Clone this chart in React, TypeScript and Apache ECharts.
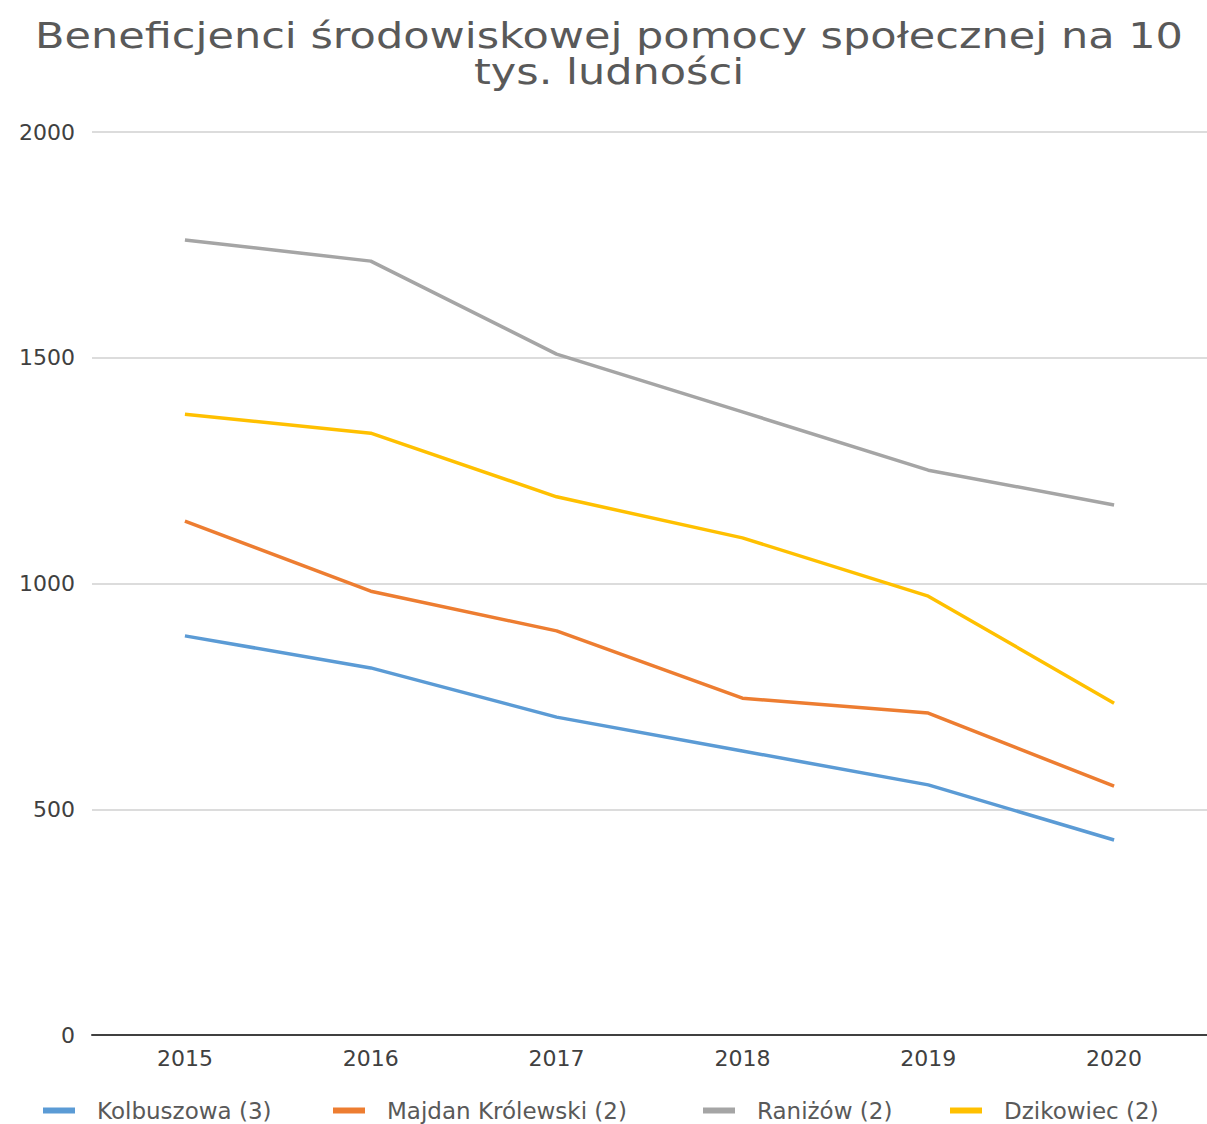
import React, { useEffect, useRef } from "react";
import * as echarts from "echarts";

const categories = ["2015", "2016", "2017", "2018", "2019", "2020"];
const kolbuszowa = [884, 813, 704, 629, 554, 432];
const majdan = [1138, 983, 895, 746, 713, 551];
const ranizow = [1761, 1714, 1508, 1380, 1251, 1174];
const dzikowiec = [1375, 1333, 1192, 1101, 972, 735];
const seriesNames = ["Kolbuszowa (3)", "Majdan Królewski (2)", "Raniżów (2)", "Dzikowiec (2)"];
const colors = ["#5b9bd5", "#ed7d31", "#a5a5a5", "#ffc000"];
const titleLines = ["Beneficjenci środowiskowej pomocy społecznej na 10", "tys. ludności"];
const legendLefts = [43, 333, 703, 950];

const FONT = "'DejaVu Sans', sans-serif";

export default function App() {
  const ref = useRef<HTMLDivElement>(null);
  useEffect(() => {
    if (!ref.current) return;
    const chart = echarts.init(ref.current, undefined, { renderer: "svg" });
    const data = [kolbuszowa, majdan, ranizow, dzikowiec];
    chart.setOption({
      animation: false,
      backgroundColor: "#ffffff",
      graphic: titleLines.map((t, i) => ({
        type: "text",
        x: 609,
        y: 35 + i * 36,
        scaleX: 1.195,
        style: {
          text: t,
          fontFamily: FONT,
          fontSize: 36,
          fill: "#595959",
          textAlign: "center",
          textVerticalAlign: "middle",
        },
      })),
      legend: seriesNames.map((n, i) => ({
        top: 1099,
        left: legendLefts[i],
        itemWidth: 32,
        itemHeight: 6,
        icon: "rect",
        padding: 0,
        textStyle: { fontFamily: FONT, fontSize: 23, color: "#595959", padding: [0, 0, 0, 17] },
        data: [n],
      })),
      grid: { left: 92, right: 0, top: 132, bottom: 89, containLabel: false },
      xAxis: {
        type: "category",
        data: categories,
        boundaryGap: true,
        axisLine: { lineStyle: { color: "#404040", width: 2 } },
        axisTick: { show: false },
        axisLabel: { fontFamily: FONT, fontSize: 22, color: "#404040", margin: 12 },
      },
      yAxis: {
        type: "value",
        min: 0,
        max: 2000,
        interval: 500,
        axisLine: { show: false },
        axisTick: { show: false },
        axisLabel: {
          fontFamily: FONT,
          fontSize: 22,
          color: "#404040",
          margin: 17,
          formatter: (v: number) => String(v),
        },
        splitLine: { lineStyle: { color: "#d0d0d0", width: 1.5 } },
      },
      series: seriesNames.map((n, i) => ({
        name: n,
        type: "line",
        data: data[i],
        symbol: "none",
        lineStyle: { color: colors[i], width: 3.5 },
        itemStyle: { color: colors[i] },
      })),
    });
    return () => chart.dispose();
  }, []);
  return (
    <div
      ref={ref}
      style={{ position: "fixed", left: 0, top: 0, width: 1207, height: 1124 }}
    />
  );
}
